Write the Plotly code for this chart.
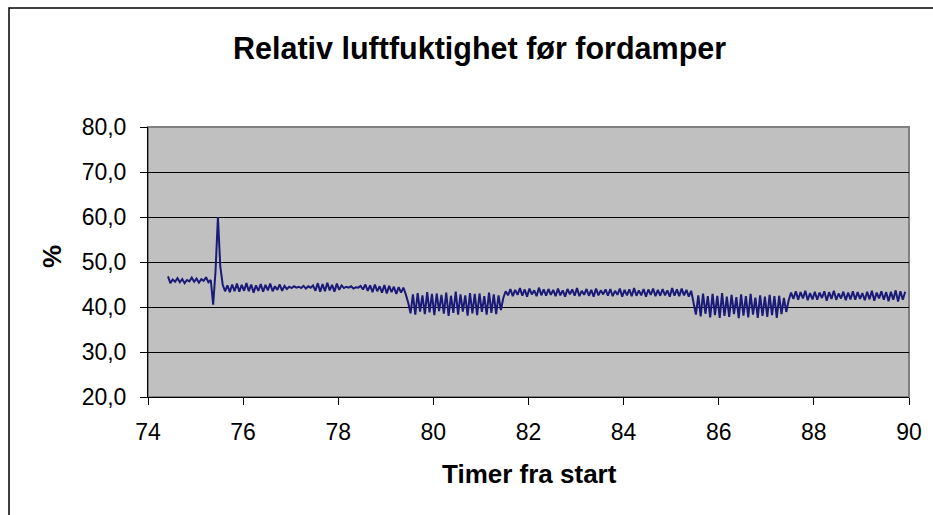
import plotly.graph_objects as go

# Relative humidity logged upstream of the evaporator, one sample every 3 minutes
START_HOUR = 74.42
SAMPLE_STEP_H = 0.05

# Steady period before the disturbance
rh_start = [46.8, 45.3, 46.1, 45.6, 46.4, 45.5, 46.2, 45.3, 46.0, 45.7,
            46.5, 45.6, 46.3, 45.4, 46.2, 45.8, 46.6, 45.5, 46.0]
# Dip and spike
rh_spike = [40.5, 48.0, 60.0, 49.0, 45.0, 43.5]
# Level around 44 %
rh_level1 = [44.8, 43.3, 45.0, 43.5, 45.2, 43.4, 44.9, 43.6, 45.3, 43.5,
             45.0, 43.2, 44.8, 43.6, 45.1, 43.4, 44.9, 43.7, 45.2, 43.5,
             44.6, 43.8, 45.0, 43.6, 44.7, 44.0, 44.5, 44.2, 44.6, 44.3,
             44.5, 44.2, 44.7, 44.1, 44.6, 44.3, 44.8, 43.6, 45.3, 43.4,
             45.1, 43.5, 45.4, 43.7, 44.9, 43.4, 45.2, 43.8, 44.8, 44.2,
             44.5, 44.3, 44.6, 44.1, 44.4, 44.3, 44.7, 43.9, 45.0, 43.6,
             44.8, 43.3, 45.0, 43.5, 44.6, 43.2, 44.9, 43.0, 44.7, 43.3,
             44.5, 42.9, 44.4, 43.2, 44.3, 42.8]
# First low period
rh_low1 = [41.0, 38.6, 42.8, 38.3, 43.1, 39.0, 42.6, 38.4, 43.3, 38.8,
           42.9, 38.2, 43.0, 39.1, 42.7, 38.5, 43.2, 38.0, 42.5, 38.7,
           43.4, 38.3, 42.8, 39.0, 42.6, 38.1, 43.1, 38.6, 42.9, 38.2,
           43.0, 38.9, 42.4, 38.3, 43.2, 38.7, 42.8, 38.4, 42.6, 39.3,
           42.0]
# Level around 43 %
rh_level2 = [43.5, 42.6, 44.0, 42.4, 43.8, 42.7, 44.2, 42.5, 43.9, 42.3,
             44.1, 42.8, 43.7, 42.4, 44.3, 42.6, 43.9, 42.5, 44.0, 42.7,
             43.8, 42.4, 44.1, 42.6, 43.7, 42.3, 44.0, 42.8, 43.9, 42.5,
             44.2, 42.4, 43.6, 42.7, 44.0, 42.5, 43.8, 42.3, 44.1, 42.6,
             43.7, 42.8, 43.9, 42.5, 44.0, 42.4, 43.6, 42.7, 44.1, 42.3,
             43.8, 42.6, 43.9, 42.4, 44.2, 42.5, 43.7, 42.6, 44.0, 42.3,
             43.9, 42.7, 44.1, 42.4, 43.8, 42.5, 44.0, 42.6, 43.7, 42.3,
             44.2, 42.5, 43.9, 42.4, 44.1, 42.6, 43.8, 42.3, 43.6]
# Second low period
rh_low2 = [40.8, 38.3, 42.6, 37.9, 43.0, 38.5, 42.4, 37.7, 42.9, 38.2,
           42.5, 37.6, 43.1, 38.0, 42.3, 37.8, 42.7, 38.4, 42.2, 37.5,
           42.8, 38.1, 42.4, 37.7, 42.9, 38.3, 42.1, 37.6, 42.6, 38.0,
           42.3, 37.8, 42.7, 38.2, 42.4, 37.6, 42.5, 38.4, 42.0, 38.9,
           41.5]
# Final level around 42.5 %
rh_level3 = [43.2, 41.8, 43.5, 41.6, 43.3, 41.9, 43.6, 41.5, 43.1, 41.7,
             43.4, 41.6, 43.2, 42.0, 43.5, 41.4, 43.3, 41.8, 43.6, 41.6,
             43.0, 41.9, 43.4, 41.5, 43.2, 41.7, 43.5, 41.6, 43.3, 41.8,
             43.1, 41.5, 43.4, 41.7, 43.6, 41.4, 43.2, 41.9, 43.5, 41.6,
             43.3, 41.3, 43.4, 41.6, 43.7, 41.2, 43.5, 41.6, 43.4]

rh = rh_start + rh_spike + rh_level1 + rh_low1 + rh_level2 + rh_low2 + rh_level3
hours = [START_HOUR + SAMPLE_STEP_H * k for k in range(len(rh))]

X_TICKS = [74, 76, 78, 80, 82, 84, 86, 88, 90]
Y_TICKS = [20, 30, 40, 50, 60, 70, 80]

TITLE = "Relativ luftfuktighet før fordamper"
X_TITLE = "Timer fra start"
Y_TITLE = "%"

FONT = "Liberation Sans, Arial, sans-serif"

fig = go.Figure(go.Scatter(
    x=hours, y=rh, mode="lines",
    line=dict(color="#1a1a78", width=2),
    hoverinfo="x+y",
))

W, H = 933, 515
L, R, T, B = 148, 24, 127, 118
pw, ph = W - L - R, H - T - B


def px(x):
    return (x - L) / pw


def py(y):
    return (H - B - y) / ph


fig.update_layout(
    width=W, height=H,
    margin=dict(l=L, r=R, t=T, b=B),
    paper_bgcolor="white",
    plot_bgcolor="#C0C0C0",
    separators=", ",
    showlegend=False,
    font=dict(family=FONT, color="black"),
    xaxis=dict(
        range=[74, 90], tickvals=X_TICKS, ticktext=[str(v) for v in X_TICKS],
        showgrid=False, zeroline=False,
        showline=True, linecolor="black", linewidth=1,
        ticks="outside", ticklen=7, tickcolor="black",
        ticklabelstandoff=7,
        tickfont=dict(size=23, family=FONT),
    ),
    yaxis=dict(
        range=[20, 80], tickvals=Y_TICKS, tickformat=".1f",
        showgrid=True, gridcolor="black", gridwidth=1, zeroline=False,
        showline=True, linecolor="black", linewidth=1,
        ticks="outside", ticklen=7, tickcolor="black",
        ticklabelstandoff=9,
        tickfont=dict(size=23, family=FONT),
    ),
    shapes=[
        # plot-area frame
        dict(type="rect", xref="paper", yref="paper", x0=0, x1=1, y0=0, y1=1,
             line=dict(color="#808080", width=2), layer="below"),
        # chart border
        dict(type="rect", xref="paper", yref="paper",
             x0=px(9), x1=px(940), y0=py(520), y1=py(8),
             line=dict(color="black", width=1.5)),
    ],
    annotations=[
        dict(text=f"<b>{TITLE}</b>", xref="paper", yref="paper",
             x=px(479.5), y=py(48), xanchor="center", yanchor="middle",
             showarrow=False, font=dict(size=30.5, family=FONT)),
        dict(text=f"<b>{X_TITLE}</b>", xref="paper", yref="paper",
             x=px(529.5), y=py(474), xanchor="center", yanchor="middle",
             showarrow=False, font=dict(size=26, family=FONT)),
        dict(text=f"<b>{Y_TITLE}</b>", xref="paper", yref="paper",
             x=px(52), y=py(257), xanchor="center", yanchor="middle",
             textangle=-90, showarrow=False, font=dict(size=26, family=FONT)),
    ],
)

fig.write_html("out.html")
